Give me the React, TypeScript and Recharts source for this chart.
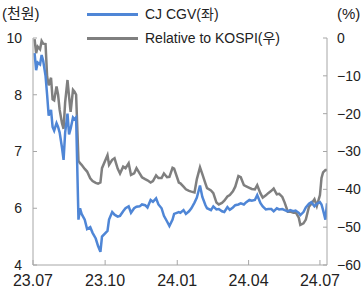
import React from "react";
import { LineChart, Line, XAxis, YAxis } from "recharts";

// trading dates
const dates = [
	"2023-07-03", "2023-07-05", "2023-07-07", "2023-07-10", "2023-07-12", "2023-07-14", "2023-07-17", "2023-07-19", "2023-07-21", "2023-07-24",
	"2023-07-26", "2023-07-28", "2023-07-31", "2023-08-02", "2023-08-04", "2023-08-07", "2023-08-09", "2023-08-11", "2023-08-14", "2023-08-16",
	"2023-08-18", "2023-08-21", "2023-08-23", "2023-08-25", "2023-08-28", "2023-08-30", "2023-09-01", "2023-09-05", "2023-09-08", "2023-09-12",
	"2023-09-15", "2023-09-19", "2023-09-22", "2023-09-25", "2023-09-27", "2023-10-04", "2023-10-06", "2023-10-10", "2023-10-13", "2023-10-17",
	"2023-10-20", "2023-10-24", "2023-10-27", "2023-10-31", "2023-11-03", "2023-11-07", "2023-11-10", "2023-11-14", "2023-11-17", "2023-11-21",
	"2023-11-24", "2023-11-28", "2023-12-01", "2023-12-05", "2023-12-08", "2023-12-12", "2023-12-15", "2023-12-19", "2023-12-22", "2023-12-26",
	"2023-12-28", "2024-01-03", "2024-01-05", "2024-01-09", "2024-01-12", "2024-01-16", "2024-01-19", "2024-01-23", "2024-01-26", "2024-01-30",
	"2024-02-02", "2024-02-06", "2024-02-08", "2024-02-13", "2024-02-16", "2024-02-20", "2024-02-23", "2024-02-27", "2024-03-01", "2024-03-05",
	"2024-03-08", "2024-03-12", "2024-03-15", "2024-03-19", "2024-03-22", "2024-03-26", "2024-03-29", "2024-04-02", "2024-04-05", "2024-04-09",
	"2024-04-12", "2024-04-16", "2024-04-19", "2024-04-23", "2024-04-26", "2024-04-30", "2024-05-03", "2024-05-07", "2024-05-10", "2024-05-14",
	"2024-05-17", "2024-05-21", "2024-05-24", "2024-05-28", "2024-05-31", "2024-06-04", "2024-06-06", "2024-06-10", "2024-06-13", "2024-06-17",
	"2024-06-20", "2024-06-24", "2024-06-27", "2024-07-01", "2024-07-03", "2024-07-05", "2024-07-08", "2024-07-10",
];

// CJ CGV share price, thousand won (left axis)
const cgvPrice = [
	9.6, 9.15, 9.35, 9.3, 9.55, 9.4, 9.0, 8.5, 7.95, 8.1,
	7.65, 7.55, 7.75, 7.65, 7.5, 7.1, 6.78, 7.5, 8.0, 7.45,
	7.6, 7.9, 7.85, 7.9, 5.2, 5.5, 5.35, 5.2, 4.95, 5.0,
	4.85, 4.7, 4.5, 4.35, 4.75, 4.9, 5.2, 5.4, 5.33, 5.28,
	5.3, 5.42, 5.5, 5.55, 5.38, 5.5, 5.54, 5.55, 5.6, 5.58,
	5.52, 5.72, 5.67, 5.76, 5.6, 5.5, 5.3, 5.15, 5.03, 5.2,
	5.35, 5.4, 5.38, 5.45, 5.35, 5.42, 5.5, 5.65, 5.78, 6.1,
	5.8, 5.58, 5.5, 5.45, 5.55, 5.47, 5.48, 5.42, 5.4, 5.53,
	5.46, 5.52, 5.58, 5.6, 5.63, 5.6, 5.66, 5.72, 5.7, 5.72,
	5.85, 5.64, 5.55, 5.47, 5.48, 5.48, 5.42, 5.5, 5.47, 5.48,
	5.45, 5.42, 5.45, 5.42, 5.44, 5.38, 5.32, 5.4, 5.52, 5.62,
	5.66, 5.55, 5.62, 5.66, 5.6, 5.45, 5.2, 5.63,
];

// relative to KOSPI, % (right axis)
const relKospi = [
	-0.3, -4.0, -2.3, -3.0, -0.8, -1.5, -1.6, -10.2, -12.5, -10.5,
	-16.2, -16.5, -12.8, -15, -19, -22.5, -24, -17, -11.1, -15.5,
	-19.5, -13.7, -14.2, -15.0, -32.5, -33.1, -33.5, -34.6, -35.3, -37.1,
	-37.8, -38.3, -38.5, -38.2, -34.4, -31.0, -33.5, -32.2, -31.8, -34.5,
	-35.8, -34.0, -34.4, -33.1, -36.2, -35.8, -34.4, -35.8, -36.8, -37.3,
	-37.6, -38.2, -37.8, -36.3, -37.0, -37.0, -35.8, -36.8, -36.7, -34.3,
	-34.5, -38.2, -38.4, -39.3, -40.0, -40.4, -40.6, -40.8, -37.3, -34.2,
	-36.0, -38.5, -39.7, -40.3, -41.0, -43.5, -44.0, -43.6, -43.0, -41.9,
	-41.5, -40.5, -39.3, -36.5, -36.8, -38.9, -39.2, -39.6, -39.9, -40.0,
	-38.9, -41.0, -42.2, -41.6, -41.0, -40.4, -39.8, -41.3, -41.2, -42.0,
	-43.5, -45.9, -45.9, -46.2, -46.0, -47.5, -49.4, -49.0, -48.0, -44.6,
	-43.8, -42.6, -44.4, -41.5, -37.0, -35.5, -34.9, -34.9,
];

const xTickDates = ["2023-07-01", "2023-10-01", "2024-01-01", "2024-04-01", "2024-07-01"];
const xDomainDates = ["2023-07-01", "2024-07-10"];
const leftTicks = [4, 5.5, 7, 8.5, 10];
const leftTickLabels = ["4", "6", "7", "8", "10"];
const rightTicks = [-60, -50, -40, -30, -20, -10, 0];

const BLUE = "#4f86d6";
const GRAY = "#7f7f7f";
const AXIS = "#a6a6a6";
const FONT = "'Liberation Sans', Arial, 'Noto Sans CJK KR', sans-serif";

const toTime = (d: string) => Date.parse(d + "T00:00:00Z");

const data = dates.map((d, i) => ({
	t: toTime(d),
	cgv: cgvPrice[i],
	rel: relKospi[i],
}));

function fmtMonth(v: number) {
	const d = new Date(v);
	const yy = String(d.getUTCFullYear()).slice(2);
	const mm = String(d.getUTCMonth() + 1).padStart(2, "0");
	return `${yy}.${mm}`;
}

function fmtRight(v: number) {
	return v === 0 ? "0" : `\u2212${Math.abs(v)}`;
}

function LegendRow(props: { top: number; color: string; label: string }) {
	return (
		<div style={{ position: "absolute", left: 87, top: props.top - 8, height: 16, display: "flex", alignItems: "center" }}>
			<div style={{ width: 51, height: 3, background: props.color }} />
			<span style={{ marginLeft: 7, fontSize: 14, color: "#222", whiteSpace: "nowrap", lineHeight: "16px" }}>
				{props.label}
			</span>
		</div>
	);
}

export default function App() {
	return (
		<div style={{ position: "absolute", left: 0, top: 0, width: 361, height: 289, fontFamily: FONT, background: "#fff", overflow: "hidden" }}>
			<div style={{ position: "absolute", left: 2, top: 5, fontSize: 15, color: "#222", lineHeight: "18px" }}>(천원)</div>
			<div style={{ position: "absolute", left: 337, top: 5, fontSize: 15, color: "#222", lineHeight: "18px" }}>(%)</div>
			<LegendRow top={14} color={BLUE} label="CJ CGV(좌)" />
			<LegendRow top={38} color={GRAY} label="Relative to KOSPI(우)" />

			<LineChart width={361} height={289} data={data} margin={{ top: 38, right: 0, bottom: 0, left: 0 }}>
				<XAxis
					dataKey="t"
					type="number"
					scale="time"
					domain={xDomainDates.map(toTime)}
					ticks={xTickDates.map(toTime)}
					tickFormatter={fmtMonth}
					interval={0}
					height={24}
					tickSize={-5}
					tickMargin={15}
					stroke={AXIS}
					tick={{ fill: "#222", fontSize: 16, fontFamily: FONT }}
					allowDataOverflow
				/>
				<YAxis
					yAxisId="left"
					orientation="left"
					width={33}
					domain={[4, 10]}
					ticks={leftTicks}
					interval={0}
					tickFormatter={(v: number) => leftTickLabels[leftTicks.indexOf(v)] ?? String(v)}
					tickSize={-4}
					tickMargin={15}
					stroke={AXIS}
					tick={{ fill: "#222", fontSize: 14, fontFamily: FONT }}
				/>
				<YAxis
					yAxisId="right"
					orientation="right"
					width={34}
					domain={[-60, 0]}
					ticks={rightTicks}
					interval={0}
					tickFormatter={fmtRight}
					tickSize={-4}
					tickMargin={14}
					stroke={AXIS}
					tick={{ fill: "#222", fontSize: 14, fontFamily: FONT, textAnchor: "start" }}
				/>
				<Line
					yAxisId="right"
					dataKey="rel"
					type="linear"
					stroke={GRAY}
					strokeWidth={2.5}
					dot={false}
					isAnimationActive={false}
				/>
				<Line
					yAxisId="left"
					dataKey="cgv"
					type="linear"
					stroke={BLUE}
					strokeWidth={2.5}
					dot={false}
					isAnimationActive={false}
				/>
			</LineChart>
		</div>
	);
}
